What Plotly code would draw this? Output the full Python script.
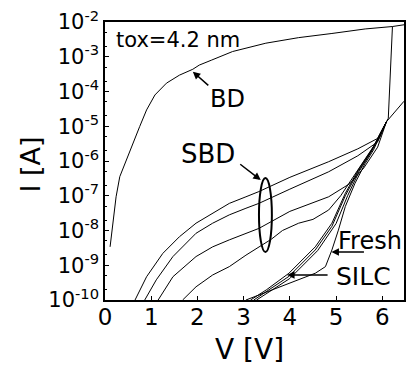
import plotly.graph_objects as go

# ---- data: voltage (V) and log10 of current (A) ----
bd_v = [0.11, 0.165, 0.24, 0.32, 0.43, 0.57, 0.75, 0.90, 1.08, 1.33, 1.61, 1.90, 2.04, 2.30, 2.76, 3.48, 4.19, 4.91, 5.63, 6.22, 6.47]
bd_logi = [-8.47, -7.79, -7.03, -6.45, -6.07, -5.59, -5.01, -4.53, -4.10, -3.76, -3.53, -3.36, -3.24, -3.10, -2.85, -2.61, -2.45, -2.33, -2.20, -2.13, -2.08]

sbd_a_v = [0.65, 0.90, 1.25, 1.61, 1.97, 2.33, 2.69, 3.05, 3.33, 4.00, 4.84, 5.47, 5.90, 6.09]
sbd_a_logi = [-10.0, -9.33, -8.66, -8.18, -7.79, -7.51, -7.22, -7.03, -6.88, -6.47, -6.02, -5.65, -5.35, -4.87]

sbd_b_v = [0.86, 1.11, 1.47, 1.97, 2.33, 2.69, 3.05, 3.33, 4.00, 4.84, 5.47, 5.90, 6.09]
sbd_b_logi = [-10.0, -9.42, -8.75, -8.08, -7.79, -7.55, -7.36, -7.22, -6.81, -6.31, -5.85, -5.45, -4.87]

sbd_c_v = [1.15, 1.47, 1.97, 2.33, 2.69, 3.05, 3.33, 4.00, 4.84, 5.30, 5.60, 5.90, 6.09]
sbd_c_logi = [-10.0, -9.33, -8.75, -8.47, -8.27, -8.08, -7.94, -7.45, -7.03, -6.65, -6.20, -5.60, -4.87]

sbd_d_v = [1.68, 1.97, 2.33, 2.69, 3.05, 3.33, 3.60, 3.84, 4.19, 4.50, 4.84, 5.10, 5.40, 5.70, 5.95, 6.09]
sbd_d_logi = [-10.0, -9.62, -9.28, -9.04, -8.71, -8.47, -8.25, -8.00, -7.79, -7.68, -7.41, -7.00, -6.40, -5.80, -5.30, -4.87]

silc1_v = [3.15, 3.50, 3.98, 4.55, 4.91, 5.20, 5.48, 5.77, 6.09, 6.13, 6.22]
silc1_logi = [-10.0, -9.70, -9.23, -8.47, -7.79, -6.93, -6.26, -5.68, -4.87, -4.77, -2.13]

silc2_v = [3.22, 3.98, 4.55, 4.91, 5.20, 5.48, 5.77, 6.09]
silc2_logi = [-10.0, -9.32, -8.56, -7.88, -7.00, -6.30, -5.70, -4.87]

silc3_v = [3.28, 4.00, 4.60, 5.00, 5.25, 5.50, 5.80, 6.09]
silc3_logi = [-10.0, -9.38, -8.58, -7.80, -7.00, -6.30, -5.65, -4.87]

fresh_v = [3.05, 4.55, 4.77, 4.91, 5.05, 5.20, 5.41, 5.63, 5.81, 6.09, 6.47]
fresh_logi = [-10.0, -9.23, -9.04, -8.56, -7.99, -7.31, -6.64, -6.07, -5.68, -4.87, -4.28]

ytick_exp = [-2, -3, -4, -5, -6, -7, -8, -9, -10]
xtick_vals = [0, 1, 2, 3, 4, 5, 6]

curves = [
    (bd_v, bd_logi), (sbd_a_v, sbd_a_logi), (sbd_b_v, sbd_b_logi),
    (sbd_c_v, sbd_c_logi), (sbd_d_v, sbd_d_logi), (silc1_v, silc1_logi),
    (silc2_v, silc2_logi), (silc3_v, silc3_logi), (fresh_v, fresh_logi),
]

FONT = "DejaVu Sans"
fig = go.Figure()
for v, lg in curves:
    fig.add_trace(go.Scatter(x=v, y=[10 ** e for e in lg], mode="lines",
                             line=dict(color="black", width=1), showlegend=False,
                             hoverinfo="skip"))

# plot area in pixels: left 105, right 406, top 22, bottom 300
def px(x):
    return (x - 105) / 301.0

def py(y):
    return (300 - y) / 278.0

ann = []
def text(t, x, y, size, xanchor="center", angle=0):
    ann.append(dict(text=t, x=px(x), y=py(y), xref="paper", yref="paper",
                    xanchor=xanchor, yanchor="middle", showarrow=False,
                    textangle=angle, font=dict(family=FONT, size=size, color="black")))

def arrow(hx, hlog, ax, ay):
    ann.append(dict(text="", x=hx, y=hlog, xref="x", yref="y", ax=ax, ay=ay,
                    showarrow=True, arrowhead=2, arrowsize=1, arrowwidth=1.5,
                    arrowcolor="black"))

text("tox=4.2 nm", 114, 40, 21, xanchor="left")
text("BD", 228, 99, 24)
text("SBD", 209, 154, 26)
text("Fresh", 372, 241, 24)
text("SILC", 365, 276, 25)
text("I [A]", 29, 165, 27, angle=-90)
text("V [V]", 250, 349, 28)

arrow(1.90, -3.43, 17, 15)
arrow(3.37, -6.55, -22, -17)
arrow(4.90, -8.62, 34, 0)
arrow(3.94, -9.28, 42, 0)

fig.update_layout(
    width=409, height=366,
    margin=dict(l=105, r=3, t=22, b=66),
    paper_bgcolor="white", plot_bgcolor="white",
    font=dict(family=FONT, color="black"),
    annotations=ann,
    shapes=[dict(type="circle", xref="paper", yref="paper",
                 x0=px(260), x1=px(273), y0=py(252), y1=py(178),
                 line=dict(color="black", width=2))],
)
fig.update_xaxes(range=[0, 6.47], tickvals=xtick_vals, ticktext=[str(v) for v in xtick_vals],
                 ticks="inside", ticklen=4, tickwidth=1, tickcolor="black",
                 showline=True, linecolor="black", linewidth=1.5, mirror=True,
                 showgrid=False, zeroline=False, ticklabelstandoff=-4,
                 tickfont=dict(family=FONT, size=23, color="black"))
fig.update_yaxes(type="log", range=[-10, -2],
                 tickvals=[10 ** e for e in ytick_exp],
                 ticktext=["10<sup>%d</sup>" % e for e in ytick_exp],
                 ticks="inside", ticklen=4, tickwidth=1, tickcolor="black",
                 minor=dict(ticks="inside", ticklen=2, tickcolor="black", showgrid=False),
                 showline=True, linecolor="black", linewidth=1.5, mirror=True,
                 showgrid=False, zeroline=False,
                 tickfont=dict(family=FONT, size=21, color="black"))

fig.write_html("out.html")
